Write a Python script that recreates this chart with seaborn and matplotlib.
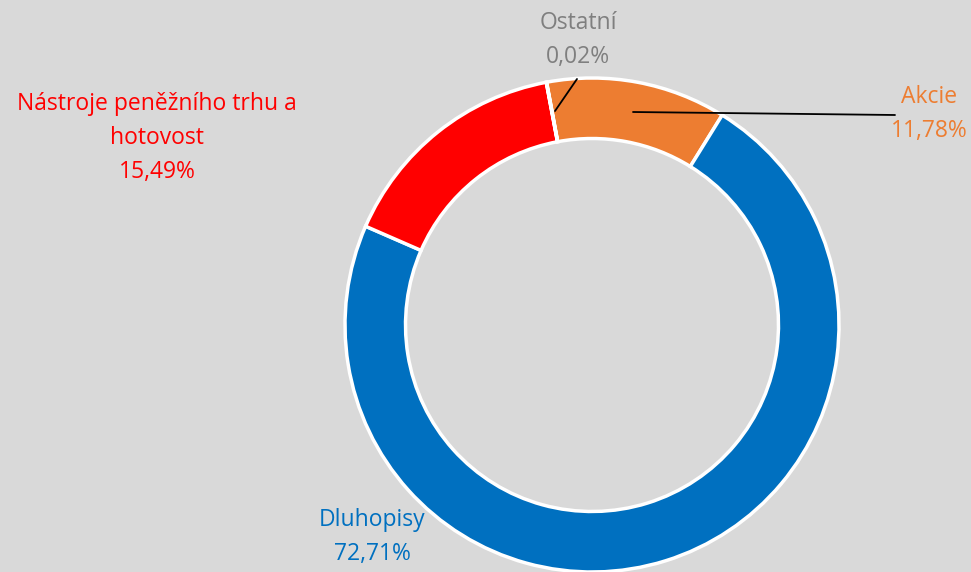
import matplotlib
matplotlib.use("Agg")
import matplotlib.pyplot as plt
import seaborn as sns

# data
categories = ["Akcie", "Dluhopisy", "Nástroje peněžního trhu a\nhotovost", "Ostatní"]
values = [11.78, 72.71, 15.49, 0.02]
value_labels = ["11,78%", "72,71%", "15,49%", "0,02%"]
colors = ["#ED7D31", "#0070C0", "#FF0000", "#A5A5A5"]
label_colors = ["#ED7D31", "#0070C0", "#FF0000", "#7F7F7F"]

sns.set_theme(style="white")
plt.rcParams["font.family"] = ["Open Sans", "DejaVu Sans"]

fig = plt.figure(figsize=(9.71, 5.72), dpi=100)
fig.patch.set_facecolor("#D9D9D9")
ax = fig.add_axes([0, 0, 1, 1])
ax.set_facecolor("#D9D9D9")

# pixel scale: ring radius ~247 px, centre at (592, 325)
R = 247
cx, cy = 592, 325
wedges, _ = ax.pie(values, colors=colors, startangle=100.6, counterclock=False,
                   radius=1.0, center=(0, 0),
                   wedgeprops=dict(width=0.245, edgecolor="white", linewidth=2.5))
ax.set_xlim(-cx / R, (971 - cx) / R)
ax.set_ylim(-(572 - cy) / R, cy / R)
ax.set_aspect("auto")
ax.axis("off")


def px(x, y):
    return (x - cx) / R, (cy - y) / R


# labels
lab_pos = [(929, 114), (372, 537), (157, 138), (578, 40)]
for name, val, col, (x, y) in zip(categories, value_labels, label_colors, lab_pos):
    ax.text(*px(x, y), f"{name}\n{val}", color=col, fontsize=16.5, ha="center",
            va="center", linespacing=1.55)

# leader lines
ax.plot(*zip(px(633, 112), px(895, 115)), color="black", lw=1.3)
ax.plot(*zip(px(577, 79), px(555, 111)), color="black", lw=1.3)

fig.savefig("out.png", dpi=100, facecolor=fig.get_facecolor())
